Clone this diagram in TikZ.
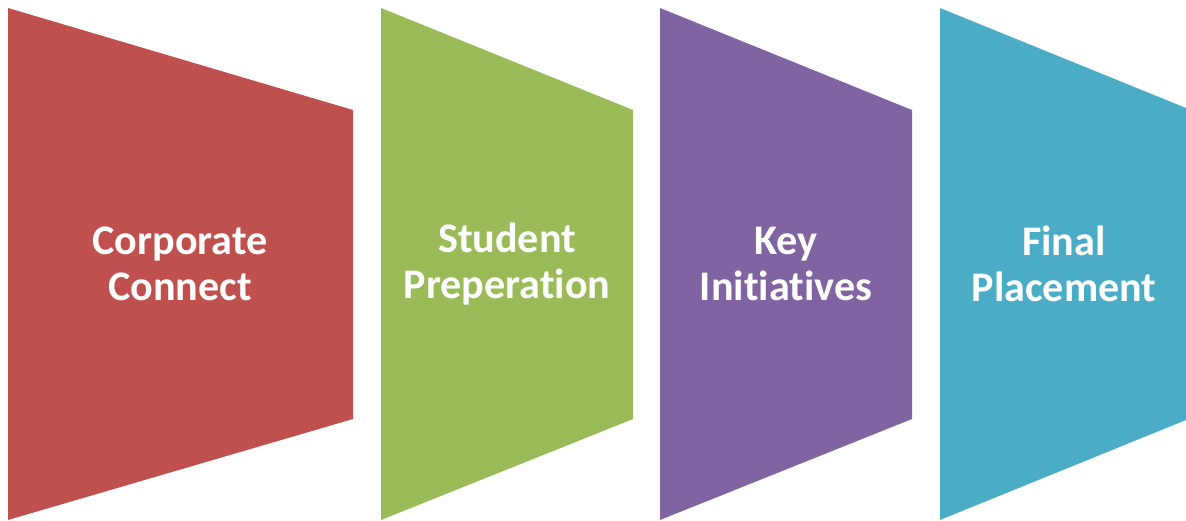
\documentclass[tikz,border=0pt]{standalone}
\usepackage{fontspec}
\setmainfont{Carlito}[Ligatures=NoCommon]
\usepackage{xcolor}
\definecolor{stepred}{HTML}{C0504D}
\definecolor{stepgreen}{HTML}{9BBB59}
\definecolor{steppurple}{HTML}{8064A2}
\definecolor{stepblue}{HTML}{4BACC6}

\begin{document}
\begin{tikzpicture}[x=0.75pt,y=-0.75pt,
    label/.style={font=\fontsize{31.6}{34}\selectfont\bfseries, text=white,
        align=center, inner sep=0pt}]
    \useasboundingbox (0,0) rectangle (1186,521);

    \fill[stepred]    (8,8)   -- (353,110) -- (353,419) -- (8,520)   -- cycle;
    \fill[stepgreen]  (381,8) -- (633,110) -- (633,419) -- (381,520) -- cycle;
    \fill[steppurple] (660,8) -- (912,110) -- (912,419) -- (660,520) -- cycle;
    \fill[stepblue]   (940,8) -- (1186,108) -- (1186,420) -- (940,520) -- cycle;

    \node[label] (corp) at (180,264) {Corporate\\Connect};
    \node[label] (stud) at (507,264) {Student\\Preperation};
    \node[label] (key)  at (786,264) {Key\\Initiatives};
    \node[label] (fin)  at (1064,264) {Final\\Placement};

\end{tikzpicture}
\end{document}
